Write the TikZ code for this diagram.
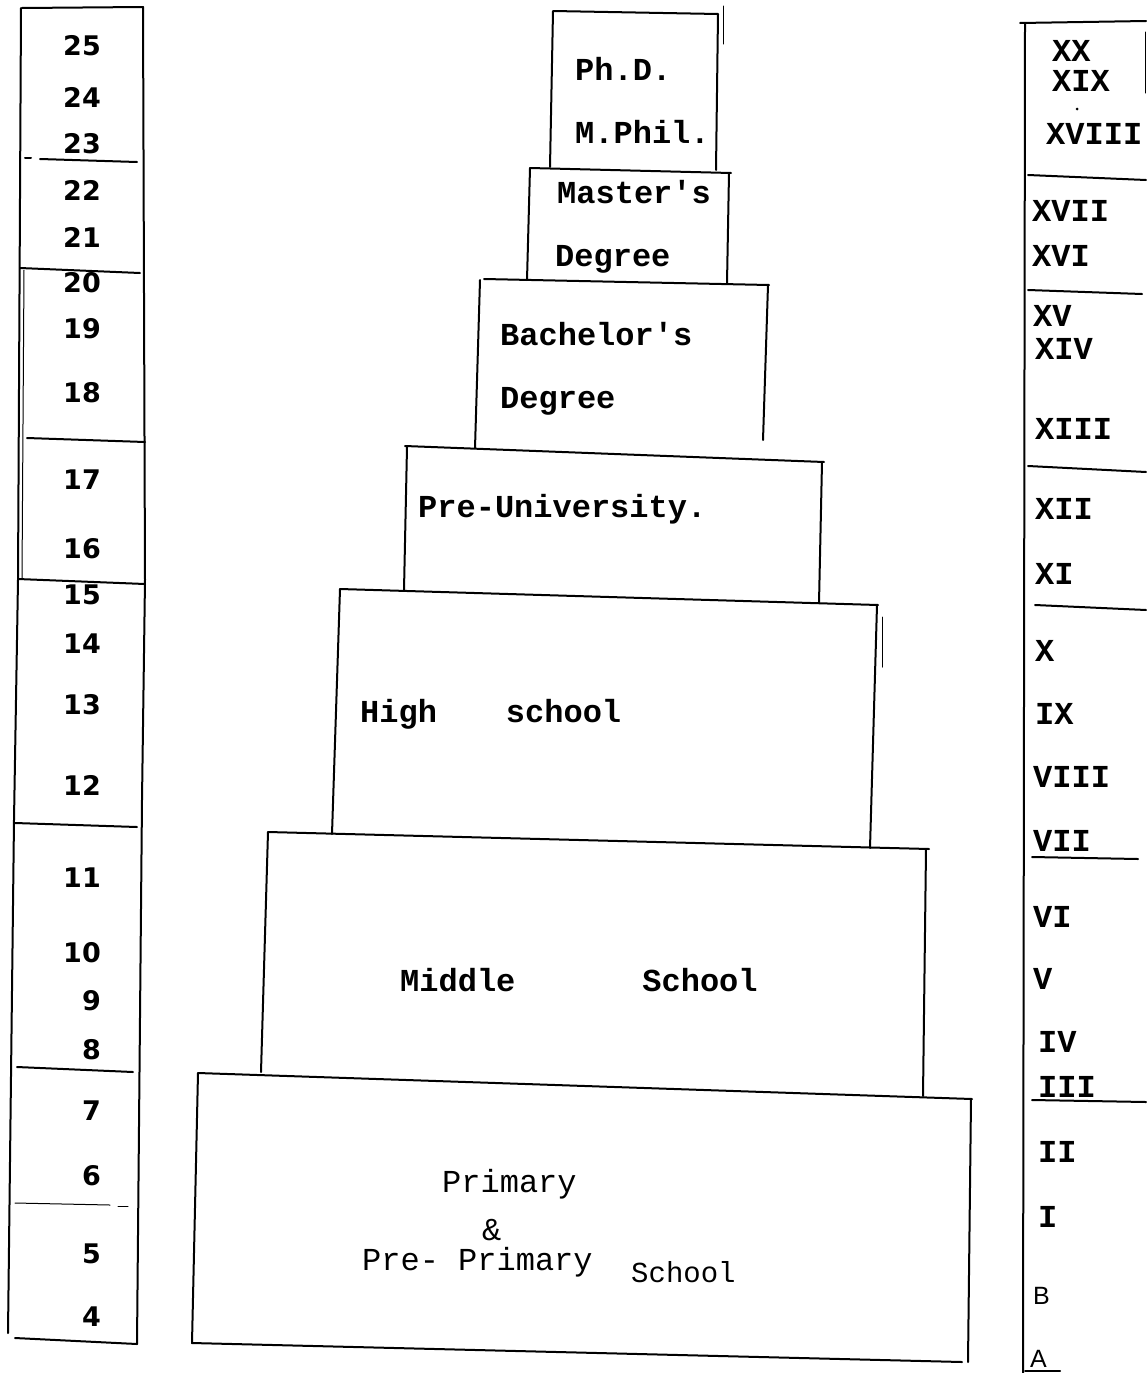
\documentclass[tikz,border=0pt]{standalone}
\usepackage{fontspec}
\newfontfamily\twfont{Liberation Mono}
\newfontfamily\numfont{DejaVu Sans}
\newfontfamily\sflab{Liberation Sans}
\begin{document}
\begin{tikzpicture}[x=1pt,y=-1pt,
  ln/.style={line width=2pt,line cap=round,line join=round},
  fine/.style={line width=1pt,line cap=round},
  num/.style={font=\numfont\bfseries\fontsize{27}{32}\selectfont,anchor=base east,inner sep=0pt},
  rom/.style={font=\twfont\bfseries\fontsize{32}{36}\selectfont,anchor=base west,inner sep=0pt},
  lab/.style={font=\twfont\bfseries\fontsize{32}{36}\selectfont,anchor=base west,inner sep=0pt},
  plab/.style={font=\twfont\fontsize{32}{36}\selectfont,anchor=base west,inner sep=0pt},
  sfl/.style={font=\sflab\fontsize{25}{28}\selectfont,anchor=base west,inner sep=0pt}
]
\useasboundingbox (0,0) rectangle (1146,1373);
\fill[white] (0,0) rectangle (1146,1373);

% ---------------- left column (age) ----------------
\draw[ln] (22,8) -- (143,7);
\draw[ln] (21,8) -- (18,580) -- (14,820) -- (8,1333);
\draw[fine] (24,270) -- (22,578);
\draw[ln] (143,7) -- (145,580) -- (142,800) -- (137,1344);
\draw[ln] (25,158) -- (31,158);
\draw[ln] (40,159) -- (137,162);
\draw[ln] (20,268) -- (140,273);
\draw[ln] (27,438) -- (145,442);
\draw[ln] (18,579) -- (145,584);
\draw[ln] (15,823) -- (137,827);
\draw[ln] (17,1067) -- (133,1072);
\draw[fine] (15,1203) -- (110,1205);
\draw[fine] (118,1206) -- (128,1206);
\draw[ln] (15,1338) -- (137,1344);

\foreach \n/\y in {25/55,24/107,23/153,22/200,21/247,20/292,19/338,18/402,17/489,16/558,15/604,14/653,13/714,12/795,11/887,10/962,9/1010,8/1059,7/1120,6/1185,5/1263,4/1326}
  \node[num] (n\n) at (101,\y) {\n};

% ---------------- central stack ----------------
% Ph.D. / M.Phil.
\draw[ln] (550,167) -- (553,11) -- (718,14) -- (716,170);
\draw[fine] (723,6) -- (723,44);
% Master's
\draw[ln] (530,168) -- (731,173);
\draw[ln] (530,168) -- (527,280);
\draw[ln] (729,173) -- (727,283);
% Bachelor's
\draw[ln] (484,279) -- (769,285);
\draw[ln] (480,280) -- (475,448);
\draw[ln] (768,285) -- (763,440);
% Pre-University
\draw[ln] (405,446) -- (824,462);
\draw[ln] (407,447) -- (404,590);
\draw[ln] (822,462) -- (819,603);
% High school
\draw[ln] (340,589) -- (878,605);
\draw[ln] (340,589) -- (332,834);
\draw[ln] (877,605) -- (870,848);
\draw[fine] (882,617) -- (882,667);
% Middle school
\draw[ln] (268,832) -- (929,849);
\draw[ln] (268,832) -- (261,1072);
\draw[ln] (926,849) -- (923,1096);
% Primary
\draw[ln] (198,1073) -- (972,1099);
\draw[ln] (198,1073) -- (192,1343);
\draw[ln] (971,1099) -- (968,1362);
\draw[ln] (192,1343) -- (962,1362);

\node[lab] (phd)   at (575,80)  {Ph.D.};
\node[lab] (mphil) at (575,143) {M.Phil.};
\node[lab] (mast)  at (557,203) {Master\textquotesingle s};
\node[lab] (mdeg)  at (555,266) {Degree};
\node[lab] (bach)  at (500,345) {Bachelor\textquotesingle s};
\node[lab] (bdeg)  at (500,408) {Degree};
\node[lab] (preu)  at (418,517) {Pre-University.};
\node[lab] (high)  at (360,722) {High\hspace{69pt}school};
\node[lab] (mid)   at (400,991) {Middle\hspace{127pt}School};
\node[plab] (prim)  at (442,1192) {Primary};
\node[plab] (amp)   at (482,1240) {\&};
\node[plab] (pprim) at (362,1270) {Pre- Primary};
\node[plab,font=\twfont\fontsize{29}{33}\selectfont] (psch) at (631,1282) {School};

% ---------------- right column (class) ----------------
\draw[ln] (1020,23) -- (1146,21);
\draw[ln] (1025,23) -- (1023,1373);
\draw[fine] (1145,32) -- (1145,93);
\draw[ln] (1028,175) -- (1146,180);
\draw[ln] (1028,290) -- (1142,294);
\draw[ln] (1028,466) -- (1146,472);
\draw[ln] (1035,605) -- (1146,610);
\draw[ln] (1032,857) -- (1138,859);
\draw[ln] (1032,1100) -- (1146,1102);
\draw[ln] (1025,1371) -- (1060,1371);
\fill (1077,109) circle (1.5pt);

\foreach \t/\x/\y in {XX/1052/61,XIX/1052/91,XVIII/1046/144,XVII/1032/221,XVI/1032/266,XV/1033/326,XIV/1035/359,XIII/1035/439,XII/1035/519,XI/1035/584,X/1035/661,IX/1035/724,VIII/1033/787,VII/1033/851,VI/1033/927,V/1033/989,IV/1038/1052,III/1038/1097,II/1038/1162,I/1038/1227}
  \node[rom] (r\t) at (\x,\y) {\t};
\node[sfl] (rB) at (1033,1304) {B};
\node[sfl] (rA) at (1030,1367) {A};
\end{tikzpicture}
\end{document}
